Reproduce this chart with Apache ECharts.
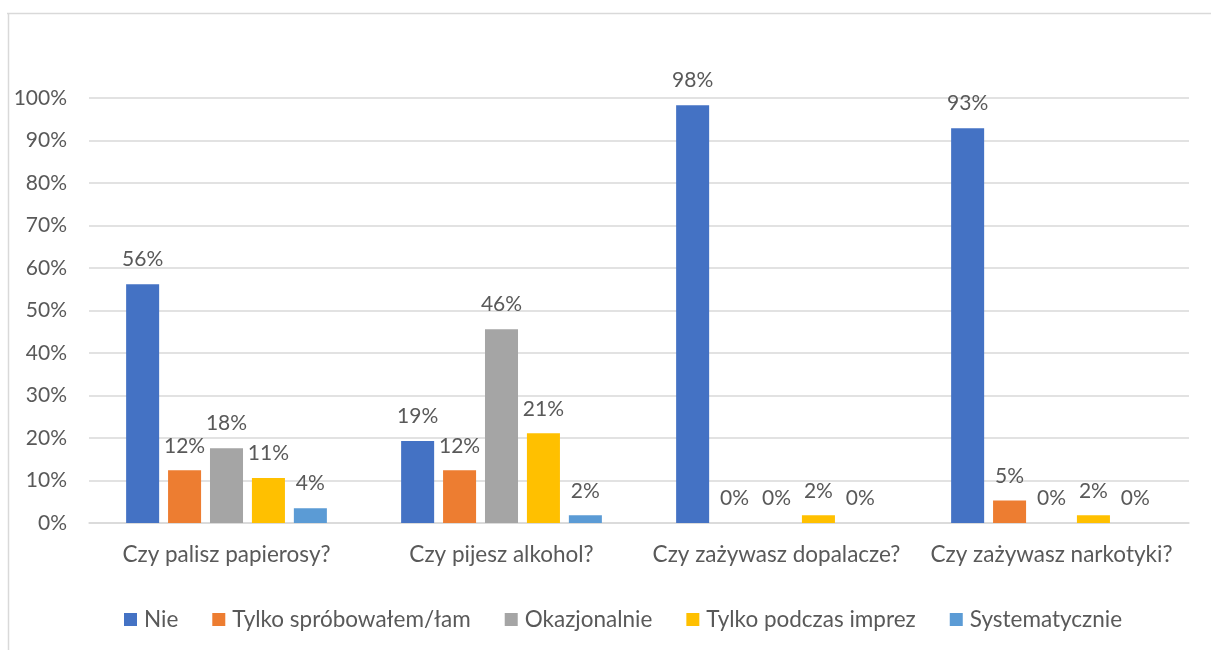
<!DOCTYPE html>
<html><head><meta charset="utf-8">
<script src="https://cdn.jsdelivr.net/npm/echarts@6/dist/echarts.min.js"></script>
<style>html,body{margin:0;padding:0;background:#fff}#c{width:1211px;height:650px}</style>
</head><body><div id="c"></div>
<script>
const categories = ['Czy palisz papierosy?', 'Czy pijesz alkohol?', 'Czy zażywasz dopalacze?', 'Czy zażywasz narkotyki?'];
const seriesNames = ['Nie', 'Tylko spróbowałem/łam', 'Okazjonalnie', 'Tylko podczas imprez', 'Systematycznie'];
const nie = [56.2, 19.3, 98.3, 92.9];
const sprobowal = [12.4, 12.4, 0, 5.3];
const okazjonalnie = [17.6, 45.6, 0, 0];
const imprezy = [10.6, 21.1, 1.8, 1.8];
const systematycznie = [3.5, 1.8, 0, 0];
const yTicks = [0, 10, 20, 30, 40, 50, 60, 70, 80, 90, 100];
const colors = ['#4472C4', '#ED7D31', '#A5A5A5', '#FFC000', '#5B9BD5'];
const values = [nie, sprobowal, okazjonalnie, imprezy, systematycznie];
const font = 'Lato, "Open Sans", sans-serif';
const txt = '#595959';
const fs = 21;
const fsText = 22.5;
const chart = echarts.init(document.getElementById('c'));
chart.setOption({
  animation: false,
  textStyle: {fontFamily: font},
  graphic: [
    {type: 'line', shape: {x1: 7, y1: 13.5, x2: 1211, y2: 13.5}, style: {stroke: '#D9D9D9', lineWidth: 1.5}},
    {type: 'line', shape: {x1: 8.5, y1: 13, x2: 8.5, y2: 650}, style: {stroke: '#D9D9D9', lineWidth: 1.5}}
  ],
  grid: {left: 89, right: 22, top: 98, bottom: 127, containLabel: false},
  legend: {
    bottom: 14, left: 119, itemWidth: 13, itemHeight: 13, itemGap: 34,
    icon: 'rect',
    textStyle: {fontFamily: font, fontSize: fsText, color: txt, padding: [0, 0, 0, 2]},
    data: seriesNames
  },
  xAxis: {
    type: 'category', data: categories,
    axisLine: {lineStyle: {color: '#D9D9D9', width: 1.5}},
    axisTick: {show: false},
    axisLabel: {interval: 0, fontFamily: font, fontSize: fsText, color: txt, margin: 20}
  },
  yAxis: {
    type: 'value', min: yTicks[0], max: yTicks[yTicks.length - 1], interval: 10,
    axisLine: {show: false}, axisTick: {show: false},
    splitLine: {lineStyle: {color: '#D9D9D9', width: 1.5}},
    axisLabel: {fontFamily: font, fontSize: fs, color: txt, margin: 22, formatter: v => v + '%'}
  },
  series: seriesNames.map((n, i) => ({
    name: n, type: 'bar', data: values[i],
    itemStyle: {color: colors[i]},
    barGap: '27%', barCategoryGap: '27%',
    label: {show: true, position: 'top', distance: 14, fontFamily: font, fontSize: fs, color: txt,
      formatter: p => Math.round(p.value) + '%'}
  }))
});
</script></body></html>
